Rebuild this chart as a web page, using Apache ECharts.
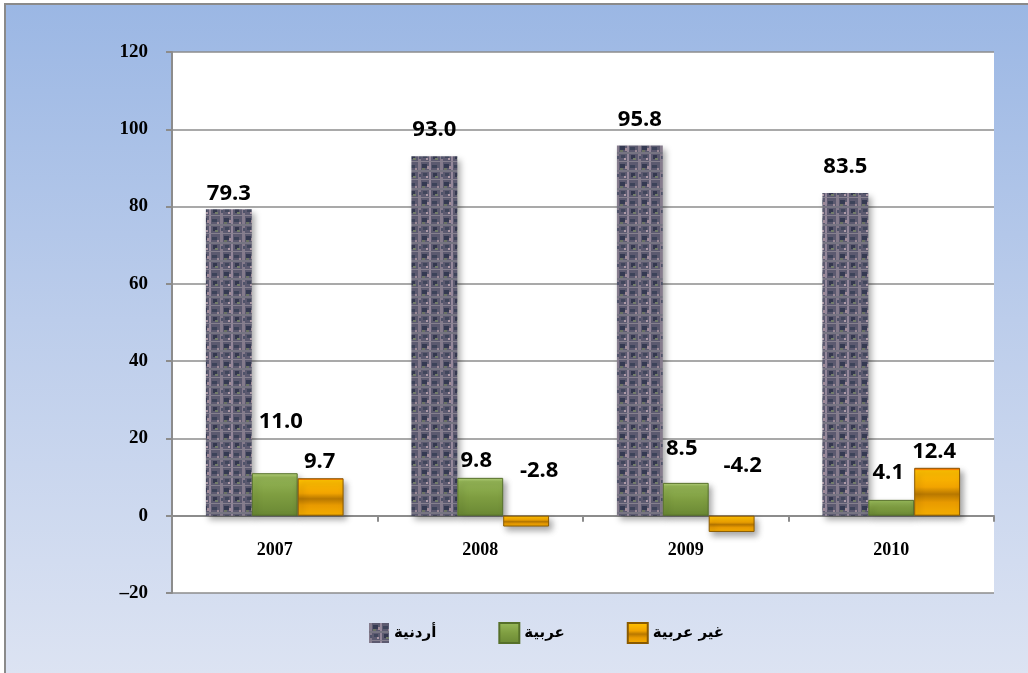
<!DOCTYPE html>
<html>
<head>
<meta charset="utf-8">
<script src="https://cdn.jsdelivr.net/npm/echarts@6/dist/echarts.min.js"></script>
<style>
  html, body { margin: 0; padding: 0; width: 1028px; height: 673px; overflow: hidden; background: #fff; }
  #frame {
    position: absolute; left: 4px; top: 3px; width: 1040px; height: 700px;
    border: 2px solid #8a8a8a;
    background: linear-gradient(to bottom, #9bb7e4 0%, #bccdeb 45%, #dfe5f3 100%);
  }
  #chart { position: absolute; left: 0; top: 0; width: 1028px; height: 673px; }
</style>
</head>
<body>
<div id="frame"></div>
<div id="chart"></div>
<script>
// data
const years = ['2007', '2008', '2009', '2010']
const seriesNames = ['أردنية', 'عربية', 'غير عربية']
const jordanian = [79.3, 93.0, 95.8, 83.5]
const arab = [11.0, 9.8, 8.5, 4.1]
const nonArab = [9.7, -2.8, -4.2, 12.4]

// label nudges (px) to mimic the hand-placed labels of the original
const jordanianLabelOffset = [[0, 0], [0, -11], [0, -10], [0, -10]]
const arabLabelOffset = [[6, -35], [-4, -1], [-4, -18], [-3, -11]]
const nonArabLabelOffset = [[-1, 0], [13, -29], [11, -34], [-3, 0]]

// fabric-like texture for the first series
function weavePattern() {
  const c = document.createElement('canvas')
  c.width = 22
  c.height = 18
  const ctx = c.getContext('2d')
  ctx.fillStyle = '#5c5a70'
  ctx.fillRect(0, 0, 22, 18)
  const cells = [
    ['#857b8c', 0, 0, 3, 18], ['#94879a', 11, 0, 2, 18],
    ['#767482', 0, 8, 22, 2], ['#86808f', 0, 17, 22, 1],
    ['#353a52', 4, 2, 5, 4], ['#3d435a', 14, 3, 5, 3],
    ['#34384f', 15, 11, 4, 4], ['#41465c', 5, 11, 4, 3],
    ['#6b7365', 4, 6, 3, 2], ['#727c6a', 17, 14, 3, 2],
    ['#a08b98', 9, 4, 2, 3], ['#9a8996', 19, 6, 2, 2],
    ['#ac99a6', 8, 14, 2, 2], ['#50536a', 1, 12, 2, 3],
  ]
  cells.forEach(([col, x, y, w, h]) => {
    ctx.fillStyle = col
    ctx.fillRect(x, y, w, h)
  })
  return c
}

const labelFont = {
  show: true,
  position: 'top',
  color: '#000',
  fontFamily: "'Open Sans', 'Liberation Sans', sans-serif",
  fontWeight: 'bold',
  fontSize: 22,
  formatter: (p) => p.value.toFixed(1),
}

const shadow = {
  shadowColor: 'rgba(0,0,0,0.35)',
  shadowBlur: 6,
  shadowOffsetX: 3,
  shadowOffsetY: 4,
}

function withLabels(values, offsets) {
  return values.map((v, i) => ({ value: v, label: { offset: offsets[i] } }))
}

const chart = echarts.init(document.getElementById('chart'))

chart.setOption({
  backgroundColor: 'transparent',
  animation: false,
  grid: {
    left: 172, right: 34, top: 52, bottom: 80,
    show: true, backgroundColor: '#ffffff', borderWidth: 0,
  },
  legend: {
    left: 364,
    top: 617,
    itemWidth: 20,
    itemHeight: 20,
    itemGap: 62,
    icon: 'rect',
    textStyle: {
      fontFamily: "'DejaVu Sans', sans-serif",
      fontWeight: 'bold',
      fontSize: 15,
      color: '#000',
    },
    data: seriesNames,
  },
  xAxis: {
    type: 'category',
    data: years,
    axisLine: { onZero: true, lineStyle: { color: '#8c8c8c', width: 2 } },
    axisTick: { show: true, length: 6, lineStyle: { color: '#8c8c8c', width: 2 } },
    axisLabel: {
      margin: -52,
      color: '#000',
      fontFamily: "'Liberation Serif', serif",
      fontWeight: 'bold',
      fontSize: 18,
    },
  },
  yAxis: {
    type: 'value',
    min: -20,
    max: 120,
    interval: 20,
    axisLine: { show: true, lineStyle: { color: '#8c8c8c', width: 2 } },
    axisTick: { show: true, length: 6, lineStyle: { color: '#8c8c8c', width: 2 } },
    splitLine: { lineStyle: { color: '#8c8c8c', width: 1.5 } },
    axisLabel: {
      margin: 24,
      color: '#000',
      fontFamily: "'Liberation Serif', serif",
      fontWeight: 'bold',
      fontSize: 19,
      formatter: (v) => (v < 0 ? '\u2013' + Math.abs(v) : String(v)),
    },
  },
  series: [
    {
      name: seriesNames[0],
      type: 'bar',
      barGap: '0%',
      barCategoryGap: '33%',
      data: withLabels(jordanian, jordanianLabelOffset),
      label: labelFont,
      itemStyle: {
        color: { image: weavePattern(), repeat: 'repeat' },
        ...shadow,
      },
    },
    {
      name: seriesNames[1],
      type: 'bar',
      data: withLabels(arab, arabLabelOffset),
      label: labelFont,
      itemStyle: {
        color: new echarts.graphic.LinearGradient(0, 0, 0, 1, [
          { offset: 0, color: '#b8d47e' },
          { offset: 0.1, color: '#94b556' },
          { offset: 0.5, color: '#7f9e41' },
          { offset: 1, color: '#6a8834' },
        ]),
        borderColor: '#56702a',
        borderWidth: 1,
        ...shadow,
      },
    },
    {
      name: seriesNames[2],
      type: 'bar',
      data: withLabels(nonArab, nonArabLabelOffset),
      label: labelFont,
      itemStyle: {
        color: new echarts.graphic.LinearGradient(0, 0, 0, 1, [
          { offset: 0, color: '#ff2a00' },
          { offset: 0.06, color: '#ffc000' },
          { offset: 0.4, color: '#f2a400' },
          { offset: 0.55, color: '#b87800' },
          { offset: 0.72, color: '#e89a00' },
          { offset: 1, color: '#f5ae00' },
        ]),
        borderColor: '#8a5a00',
        borderWidth: 1,
        ...shadow,
      },
    },
  ],
})
</script>
</body>
</html>
